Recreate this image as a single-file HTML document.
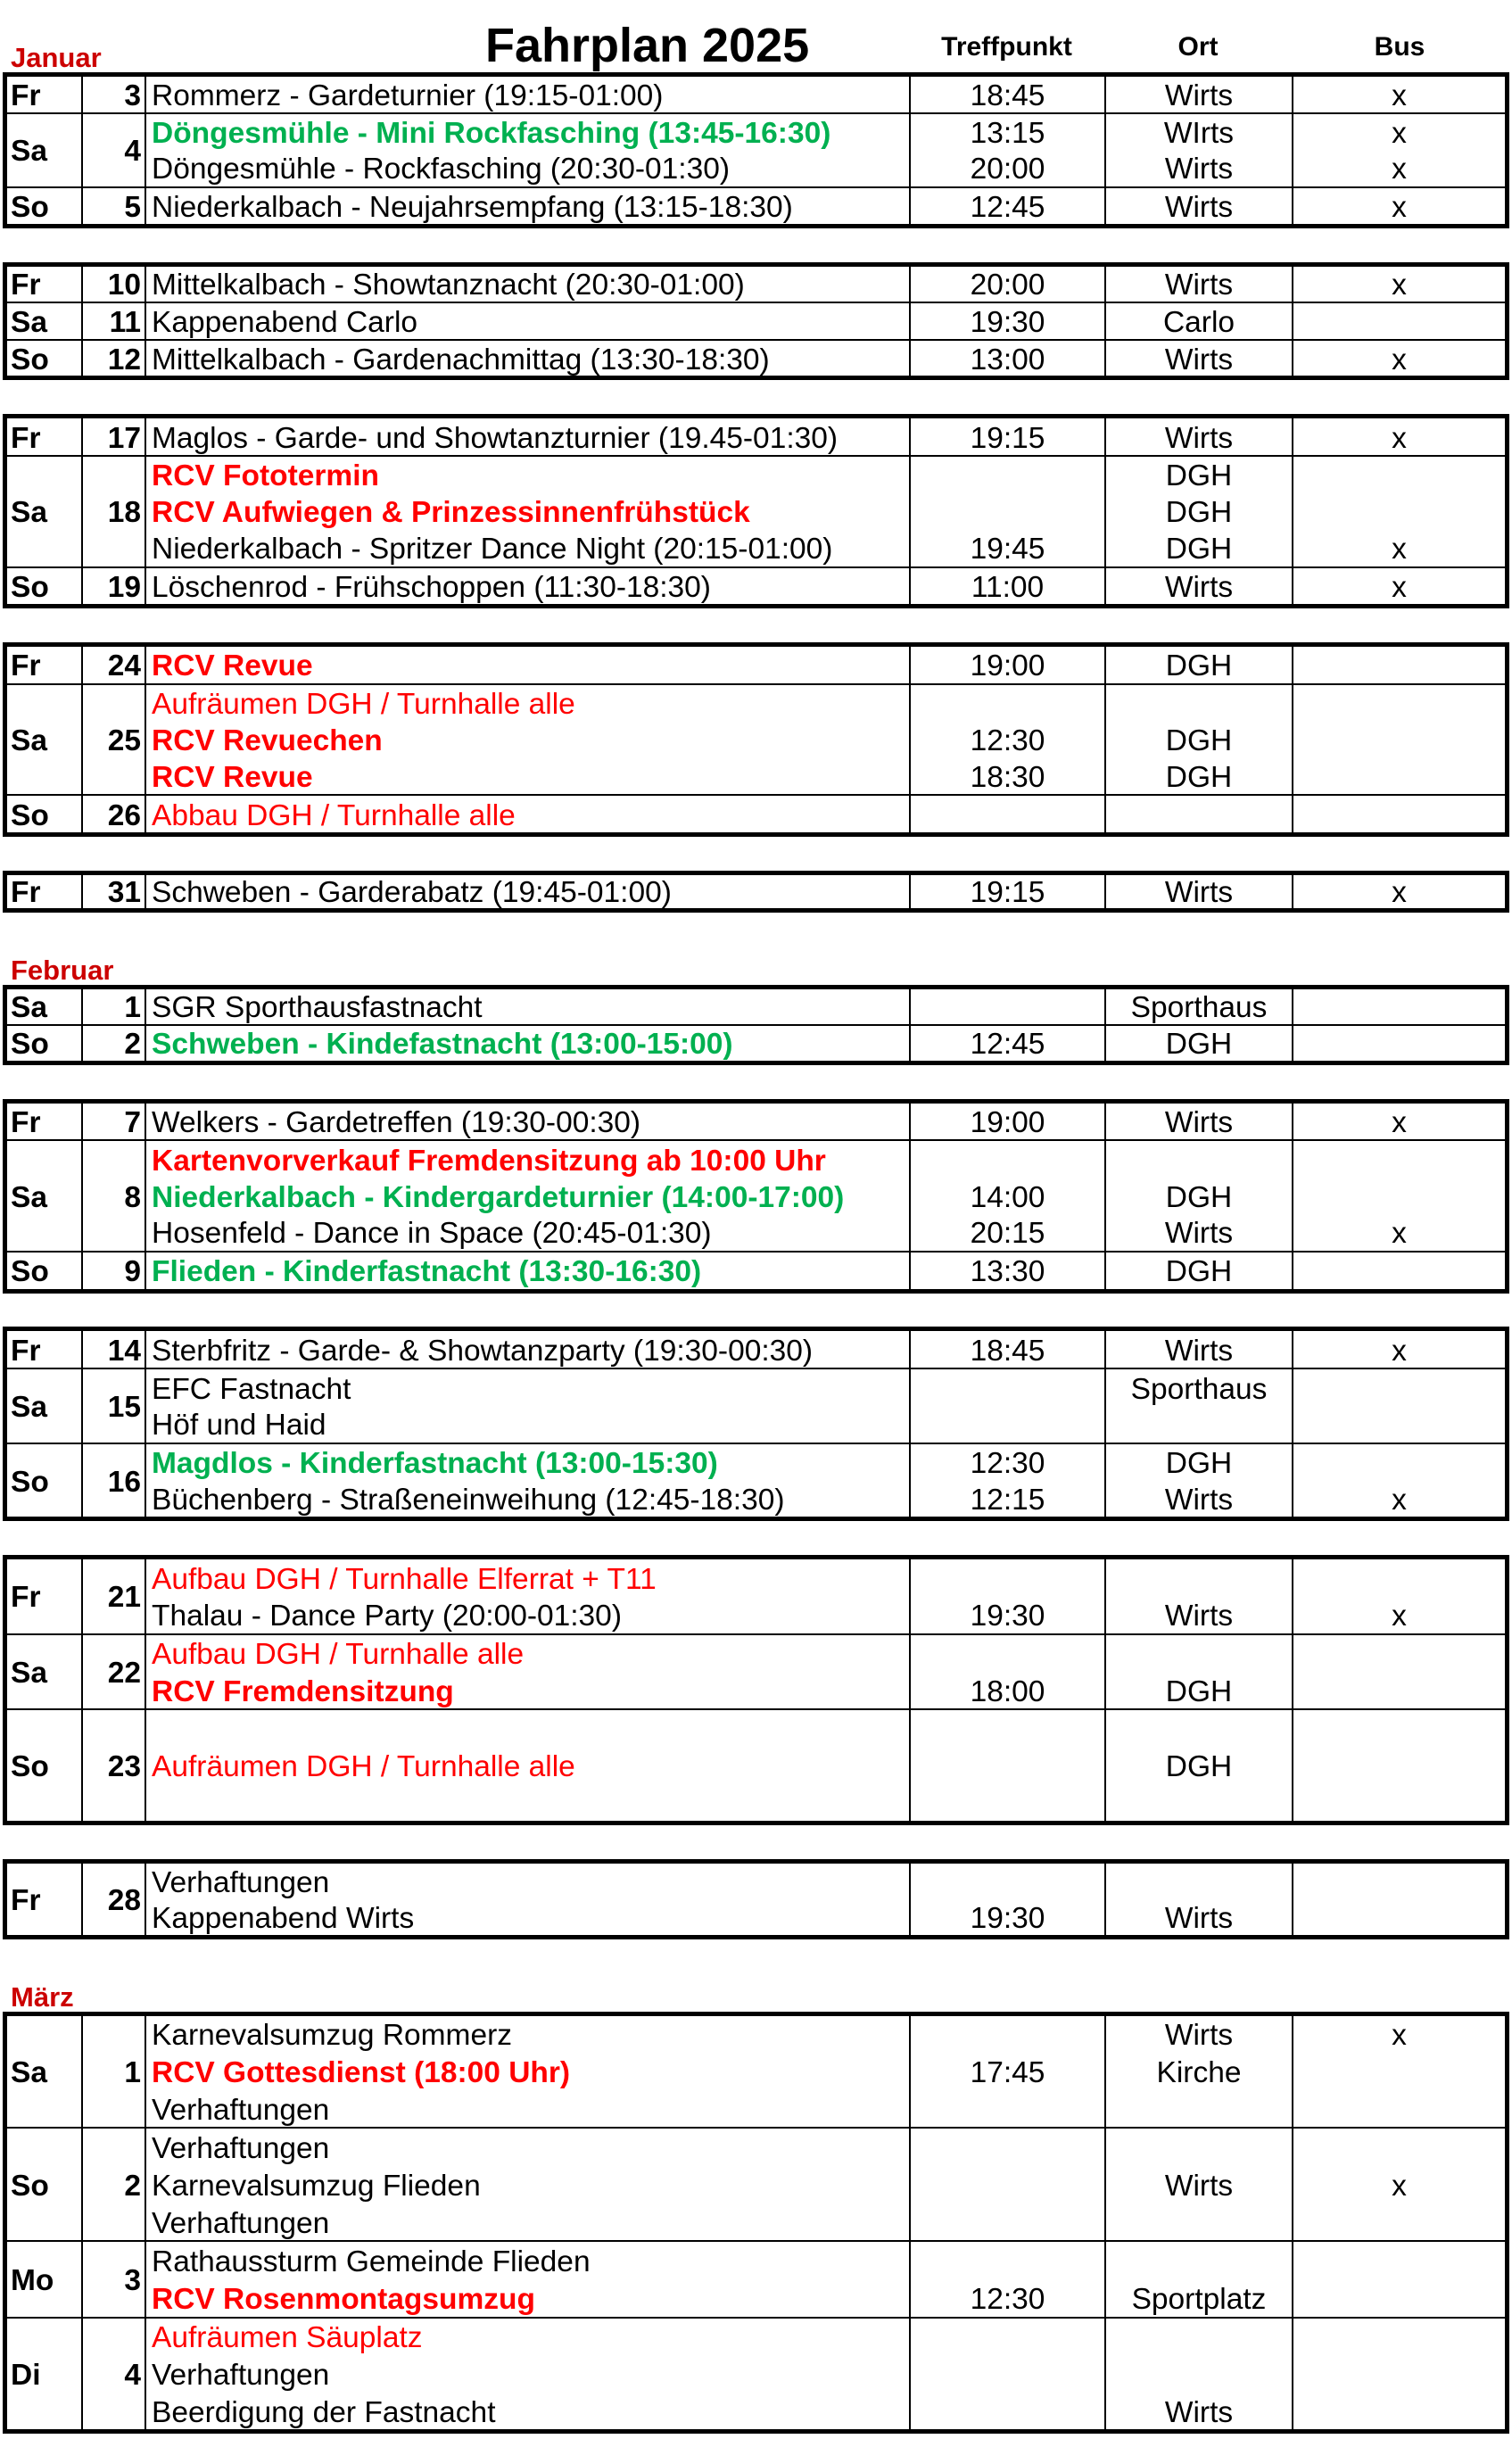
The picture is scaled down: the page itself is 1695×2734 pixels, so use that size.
<!DOCTYPE html>
<html><head><meta charset="utf-8"><style>
body{margin:0;width:1695px;height:2734px;background:#fff;position:relative;font-family:"Liberation Sans",Arial,sans-serif;font-size:33.5px;color:#000;overflow:hidden}
.b{position:absolute;left:3px;width:1689px;border:5px solid #000;box-sizing:border-box;display:flex;flex-direction:column}
.r{display:grid;grid-template-columns:83px 71px 857px 219px 210px 1fr;grid-auto-rows:1fr;min-height:0;box-sizing:border-box}
.r+.r{border-top:2px solid #000}
.r>div{border-left:2px solid #000;display:flex;align-items:center;white-space:nowrap;overflow:hidden;box-sizing:border-box;padding-top:4px}
.r>div.d{border-left:0;font-weight:bold;padding-left:4px}
.r>div.n{justify-content:flex-end;padding-right:4px;font-weight:bold}
.r>div.e{padding-left:6px}
.r>div.c{justify-content:center}
.R{color:#ff0000}.RB{color:#ff0000;font-weight:bold}.G{color:#00b050;font-weight:bold}
.m{position:absolute;left:12px;height:43px;display:flex;align-items:center;color:#cc0000;font-weight:bold;font-size:31px;padding-top:3px}
.h{position:absolute;top:33px;line-height:40px;font-size:30px;font-weight:bold;text-align:center}
</style></head><body>
<div class="m" style="top:40px">Januar</div>
<div style="position:absolute;left:544px;top:21px;line-height:60px;font-size:54px;font-weight:bold">Fahrplan 2025</div>
<div class="h" style="left:1019px;width:219px">Treffpunkt</div>
<div class="h" style="left:1238px;width:210px">Ort</div>
<div class="h" style="left:1448px;width:242px">Bus</div>

<div class="b" style="top:80.5px;height:175.5px">
<div class="r" style="flex:1 1 0"><div class="d" style="grid-row:span 1">Fr</div><div class="n" style="grid-row:span 1">3</div><div class="e">Rommerz - Gardeturnier (19:15-01:00)</div><div class="c">18:45</div><div class="c">Wirts</div><div class="c">x</div></div>
<div class="r" style="flex:2 1 0"><div class="d" style="grid-row:span 2">Sa</div><div class="n" style="grid-row:span 2">4</div>
<div class="e G">Döngesmühle - Mini Rockfasching (13:45-16:30)</div><div class="c">13:15</div><div class="c">WIrts</div><div class="c">x</div>
<div class="e">Döngesmühle - Rockfasching (20:30-01:30)</div><div class="c">20:00</div><div class="c">Wirts</div><div class="c">x</div></div>
<div class="r" style="flex:1 1 0"><div class="d">So</div><div class="n">5</div><div class="e">Niederkalbach - Neujahrsempfang (13:15-18:30)</div><div class="c">12:45</div><div class="c">Wirts</div><div class="c">x</div></div>
</div>

<div class="b" style="top:293.6px;height:132.9px">
<div class="r" style="flex:1 1 0"><div class="d">Fr</div><div class="n">10</div><div class="e">Mittelkalbach - Showtanznacht (20:30-01:00)</div><div class="c">20:00</div><div class="c">Wirts</div><div class="c">x</div></div>
<div class="r" style="flex:1 1 0"><div class="d">Sa</div><div class="n">11</div><div class="e">Kappenabend Carlo</div><div class="c">19:30</div><div class="c">Carlo</div><div class="c"></div></div>
<div class="r" style="flex:1 1 0"><div class="d">So</div><div class="n">12</div><div class="e">Mittelkalbach - Gardenachmittag (13:30-18:30)</div><div class="c">13:00</div><div class="c">Wirts</div><div class="c">x</div></div>
</div>

<div class="b" style="top:464.2px;height:218.2px">
<div class="r" style="flex:1 1 0"><div class="d">Fr</div><div class="n">17</div><div class="e">Maglos - Garde- und Showtanzturnier (19.45-01:30)</div><div class="c">19:15</div><div class="c">Wirts</div><div class="c">x</div></div>
<div class="r" style="flex:3 1 0"><div class="d" style="grid-row:span 3">Sa</div><div class="n" style="grid-row:span 3">18</div>
<div class="e RB">RCV Fototermin</div><div class="c"></div><div class="c">DGH</div><div class="c"></div>
<div class="e RB">RCV Aufwiegen &amp; Prinzessinnenfrühstück</div><div class="c"></div><div class="c">DGH</div><div class="c"></div>
<div class="e">Niederkalbach - Spritzer Dance Night (20:15-01:00)</div><div class="c">19:45</div><div class="c">DGH</div><div class="c">x</div></div>
<div class="r" style="flex:1 1 0"><div class="d">So</div><div class="n">19</div><div class="e">Löschenrod - Frühschoppen (11:30-18:30)</div><div class="c">11:00</div><div class="c">Wirts</div><div class="c">x</div></div>
</div>

<div class="b" style="top:720px;height:218.2px">
<div class="r" style="flex:1 1 0"><div class="d">Fr</div><div class="n">24</div><div class="e RB">RCV Revue</div><div class="c">19:00</div><div class="c">DGH</div><div class="c"></div></div>
<div class="r" style="flex:3 1 0"><div class="d" style="grid-row:span 3">Sa</div><div class="n" style="grid-row:span 3">25</div>
<div class="e R">Aufräumen DGH / Turnhalle alle</div><div class="c"></div><div class="c"></div><div class="c"></div>
<div class="e RB">RCV Revuechen</div><div class="c">12:30</div><div class="c">DGH</div><div class="c"></div>
<div class="e RB">RCV Revue</div><div class="c">18:30</div><div class="c">DGH</div><div class="c"></div></div>
<div class="r" style="flex:1 1 0"><div class="d">So</div><div class="n">26</div><div class="e R">Abbau DGH / Turnhalle alle</div><div class="c"></div><div class="c"></div><div class="c"></div></div>
</div>

<div class="b" style="top:975.7px;height:47.6px">
<div class="r" style="flex:1 1 0"><div class="d">Fr</div><div class="n">31</div><div class="e">Schweben - Garderabatz (19:45-01:00)</div><div class="c">19:15</div><div class="c">Wirts</div><div class="c">x</div></div>
</div>

<div class="m" style="top:1063px">Februar</div>

<div class="b" style="top:1103.6px;height:90.3px">
<div class="r" style="flex:1 1 0"><div class="d">Sa</div><div class="n">1</div><div class="e">SGR Sporthausfastnacht</div><div class="c"></div><div class="c">Sporthaus</div><div class="c"></div></div>
<div class="r" style="flex:1 1 0"><div class="d">So</div><div class="n">2</div><div class="e G">Schweben - Kindefastnacht (13:00-15:00)</div><div class="c">12:45</div><div class="c">DGH</div><div class="c"></div></div>
</div>

<div class="b" style="top:1231.5px;height:218.2px">
<div class="r" style="flex:1 1 0"><div class="d">Fr</div><div class="n">7</div><div class="e">Welkers - Gardetreffen (19:30-00:30)</div><div class="c">19:00</div><div class="c">Wirts</div><div class="c">x</div></div>
<div class="r" style="flex:3 1 0"><div class="d" style="grid-row:span 3">Sa</div><div class="n" style="grid-row:span 3">8</div>
<div class="e RB">Kartenvorverkauf Fremdensitzung ab 10:00 Uhr</div><div class="c"></div><div class="c"></div><div class="c"></div>
<div class="e G">Niederkalbach - Kindergardeturnier (14:00-17:00)</div><div class="c">14:00</div><div class="c">DGH</div><div class="c"></div>
<div class="e">Hosenfeld - Dance in Space (20:45-01:30)</div><div class="c">20:15</div><div class="c">Wirts</div><div class="c">x</div></div>
<div class="r" style="flex:1 1 0"><div class="d">So</div><div class="n">9</div><div class="e G">Flieden - Kinderfastnacht (13:30-16:30)</div><div class="c">13:30</div><div class="c">DGH</div><div class="c"></div></div>
</div>

<div class="b" style="top:1487.3px;height:218.2px">
<div class="r" style="flex:1 1 0"><div class="d">Fr</div><div class="n">14</div><div class="e">Sterbfritz - Garde- &amp; Showtanzparty (19:30-00:30)</div><div class="c">18:45</div><div class="c">Wirts</div><div class="c">x</div></div>
<div class="r" style="flex:2 1 0"><div class="d" style="grid-row:span 2">Sa</div><div class="n" style="grid-row:span 2">15</div>
<div class="e">EFC Fastnacht</div><div class="c"></div><div class="c">Sporthaus</div><div class="c"></div>
<div class="e">Höf und Haid</div><div class="c"></div><div class="c"></div><div class="c"></div></div>
<div class="r" style="flex:2 1 0"><div class="d" style="grid-row:span 2">So</div><div class="n" style="grid-row:span 2">16</div>
<div class="e G">Magdlos - Kinderfastnacht (13:00-15:30)</div><div class="c">12:30</div><div class="c">DGH</div><div class="c"></div>
<div class="e">Büchenberg - Straßeneinweihung (12:45-18:30)</div><div class="c">12:15</div><div class="c">Wirts</div><div class="c">x</div></div>
</div>

<div class="b" style="top:1743.1px;height:303.4px">
<div class="r" style="flex:2 1 0"><div class="d" style="grid-row:span 2">Fr</div><div class="n" style="grid-row:span 2">21</div>
<div class="e R">Aufbau DGH / Turnhalle Elferrat + T11</div><div class="c"></div><div class="c"></div><div class="c"></div>
<div class="e">Thalau - Dance Party (20:00-01:30)</div><div class="c">19:30</div><div class="c">Wirts</div><div class="c">x</div></div>
<div class="r" style="flex:2 1 0"><div class="d" style="grid-row:span 2">Sa</div><div class="n" style="grid-row:span 2">22</div>
<div class="e R">Aufbau DGH / Turnhalle alle</div><div class="c"></div><div class="c"></div><div class="c"></div>
<div class="e RB">RCV Fremdensitzung</div><div class="c">18:00</div><div class="c">DGH</div><div class="c"></div></div>
<div class="r" style="flex:3 1 0"><div class="d" style="grid-row:span 3">So</div><div class="n" style="grid-row:span 3">23</div>
<div class="e"></div><div class="c"></div><div class="c"></div><div class="c"></div>
<div class="e R">Aufräumen DGH / Turnhalle alle</div><div class="c"></div><div class="c">DGH</div><div class="c"></div>
<div class="e"></div><div class="c"></div><div class="c"></div><div class="c"></div></div>
</div>

<div class="b" style="top:2084.1px;height:90.3px">
<div class="r" style="flex:2 1 0"><div class="d" style="grid-row:span 2">Fr</div><div class="n" style="grid-row:span 2">28</div>
<div class="e">Verhaftungen</div><div class="c"></div><div class="c"></div><div class="c"></div>
<div class="e">Kappenabend Wirts</div><div class="c">19:30</div><div class="c">Wirts</div><div class="c"></div></div>
</div>

<div class="m" style="top:2214.5px">März</div>

<div class="b" style="top:2254.6px;height:473.9px">
<div class="r" style="flex:3 1 0"><div class="d" style="grid-row:span 3">Sa</div><div class="n" style="grid-row:span 3">1</div>
<div class="e">Karnevalsumzug Rommerz</div><div class="c"></div><div class="c">Wirts</div><div class="c">x</div>
<div class="e RB">RCV Gottesdienst (18:00 Uhr)</div><div class="c">17:45</div><div class="c">Kirche</div><div class="c"></div>
<div class="e">Verhaftungen</div><div class="c"></div><div class="c"></div><div class="c"></div></div>
<div class="r" style="flex:3 1 0"><div class="d" style="grid-row:span 3">So</div><div class="n" style="grid-row:span 3">2</div>
<div class="e">Verhaftungen</div><div class="c"></div><div class="c"></div><div class="c"></div>
<div class="e">Karnevalsumzug Flieden</div><div class="c"></div><div class="c">Wirts</div><div class="c">x</div>
<div class="e">Verhaftungen</div><div class="c"></div><div class="c"></div><div class="c"></div></div>
<div class="r" style="flex:2 1 0"><div class="d" style="grid-row:span 2">Mo</div><div class="n" style="grid-row:span 2">3</div>
<div class="e">Rathaussturm Gemeinde Flieden</div><div class="c"></div><div class="c"></div><div class="c"></div>
<div class="e RB">RCV Rosenmontagsumzug</div><div class="c">12:30</div><div class="c">Sportplatz</div><div class="c"></div></div>
<div class="r" style="flex:3 1 0"><div class="d" style="grid-row:span 3">Di</div><div class="n" style="grid-row:span 3">4</div>
<div class="e R">Aufräumen Säuplatz</div><div class="c"></div><div class="c"></div><div class="c"></div>
<div class="e">Verhaftungen</div><div class="c"></div><div class="c"></div><div class="c"></div>
<div class="e">Beerdigung der Fastnacht</div><div class="c"></div><div class="c">Wirts</div><div class="c"></div></div>
</div>
</body></html>
